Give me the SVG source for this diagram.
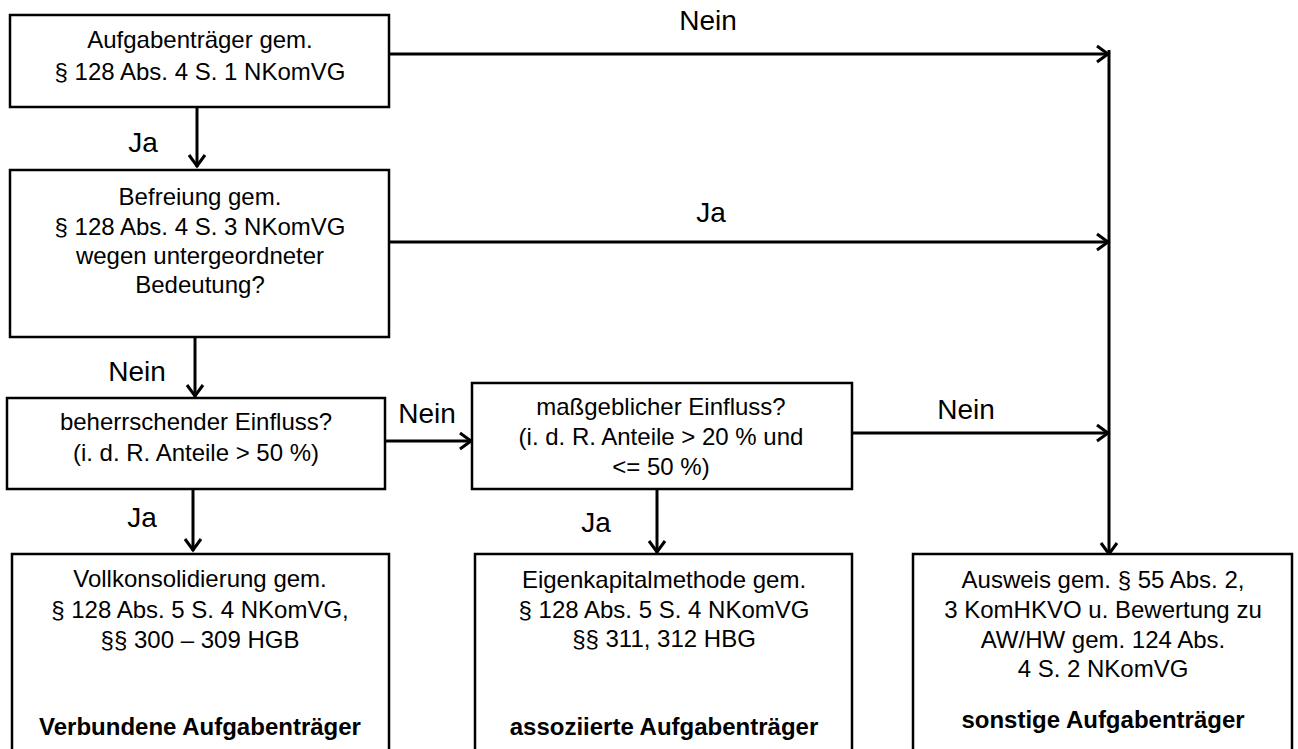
<svg xmlns="http://www.w3.org/2000/svg" width="1298" height="749" viewBox="0 0 1298 749">
<style>
.box{fill:#fff;stroke:#000;stroke-width:2.5}
.t{font-family:"Liberation Sans",Arial,sans-serif;font-size:24px;fill:#000;text-anchor:middle}
.b{font-weight:bold}
.lbl{font-family:"Liberation Sans",Arial,sans-serif;font-size:28px;fill:#000;text-anchor:middle}
.c{fill:none;stroke:#000;stroke-width:3}
</style>
<defs>
<marker id="ah" viewBox="-16 -11 20 22" markerWidth="20" markerHeight="22" refX="0" refY="0" markerUnits="userSpaceOnUse" orient="auto">
<path d="M-12,-8 L-1,0 L-12,8" fill="none" stroke="#000" stroke-width="3"/>
</marker>
</defs>
<rect width="1298" height="749" fill="#fff"/>
<g id="connectors">
<line class="c" x1="197" y1="107" x2="197" y2="167" marker-end="url(#ah)"/>
<line class="c" x1="195" y1="337" x2="195" y2="397" marker-end="url(#ah)"/>
<line class="c" x1="193" y1="489" x2="193" y2="551" marker-end="url(#ah)"/>
<line class="c" x1="385" y1="441" x2="472" y2="441" marker-end="url(#ah)"/>
<line class="c" x1="657" y1="489" x2="657" y2="553" marker-end="url(#ah)"/>
<line class="c" x1="389" y1="54" x2="1109" y2="54" marker-end="url(#ah)"/>
<line class="c" x1="389" y1="242" x2="1109" y2="242" marker-end="url(#ah)"/>
<line class="c" x1="852" y1="433" x2="1109" y2="433" marker-end="url(#ah)"/>
<line class="c" x1="1109" y1="50" x2="1109" y2="555" marker-end="url(#ah)"/>
<text class="lbl" x="708" y="30">Nein</text>
<text class="lbl" x="143" y="152">Ja</text>
<text class="lbl" x="711" y="222">Ja</text>
<text class="lbl" x="137" y="381">Nein</text>
<text class="lbl" x="427" y="423">Nein</text>
<text class="lbl" x="966" y="419">Nein</text>
<text class="lbl" x="142" y="527">Ja</text>
<text class="lbl" x="596" y="532">Ja</text>
</g>
<g id="n1">
<rect class="box" x="10" y="15" width="379" height="92"/>
<text class="t" x="200" y="48">Aufgabenträger gem.</text>
<text class="t" x="200" y="80">§ 128 Abs. 4 S. 1 NKomVG</text>
</g>
<g id="n2">
<rect class="box" x="10" y="170" width="379" height="167"/>
<text class="t" x="200" y="205">Befreiung gem.</text>
<text class="t" x="200" y="235">§ 128 Abs. 4 S. 3 NKomVG</text>
<text class="t" x="200" y="264">wegen untergeordneter</text>
<text class="t" x="200" y="293">Bedeutung?</text>
</g>
<g id="n3">
<rect class="box" x="7" y="398" width="378" height="91"/>
<text class="t" x="196" y="430">beherrschender Einfluss?</text>
<text class="t" x="196" y="461">(i. d. R. Anteile &gt; 50 %)</text>
</g>
<g id="n4">
<rect class="box" x="472" y="383" width="380" height="106"/>
<text class="t" x="661" y="415">maßgeblicher Einfluss?</text>
<text class="t" x="661" y="445">(i. d. R. Anteile &gt; 20 % und</text>
<text class="t" x="661" y="475">&lt;= 50 %)</text>
</g>
<g id="n5">
<rect class="box" x="12" y="554" width="377" height="200"/>
<text class="t" x="200" y="587">Vollkonsolidierung gem.</text>
<text class="t" x="200" y="618">§ 128 Abs. 5 S. 4 NKomVG,</text>
<text class="t" x="200" y="648">§§ 300 – 309 HGB</text>
<text class="t b" x="200" y="735">Verbundene Aufgabenträger</text>
</g>
<g id="n6">
<rect class="box" x="475" y="554" width="377" height="200"/>
<text class="t" x="664" y="588">Eigenkapitalmethode gem.</text>
<text class="t" x="664" y="618">§ 128 Abs. 5 S. 4 NKomVG</text>
<text class="t" x="664" y="647">§§ 311, 312 HBG</text>
<text class="t b" x="664" y="735">assoziierte Aufgabenträger</text>
</g>
<g id="n7">
<rect class="box" x="913" y="554" width="379" height="200"/>
<text class="t" x="1103" y="588">Ausweis gem. § 55 Abs. 2,</text>
<text class="t" x="1103" y="618">3 KomHKVO u. Bewertung zu</text>
<text class="t" x="1103" y="648">AW/HW gem. 124 Abs.</text>
<text class="t" x="1103" y="677">4 S. 2 NKomVG</text>
<text class="t b" x="1103" y="728">sonstige Aufgabenträger</text>
</g>
</svg>
